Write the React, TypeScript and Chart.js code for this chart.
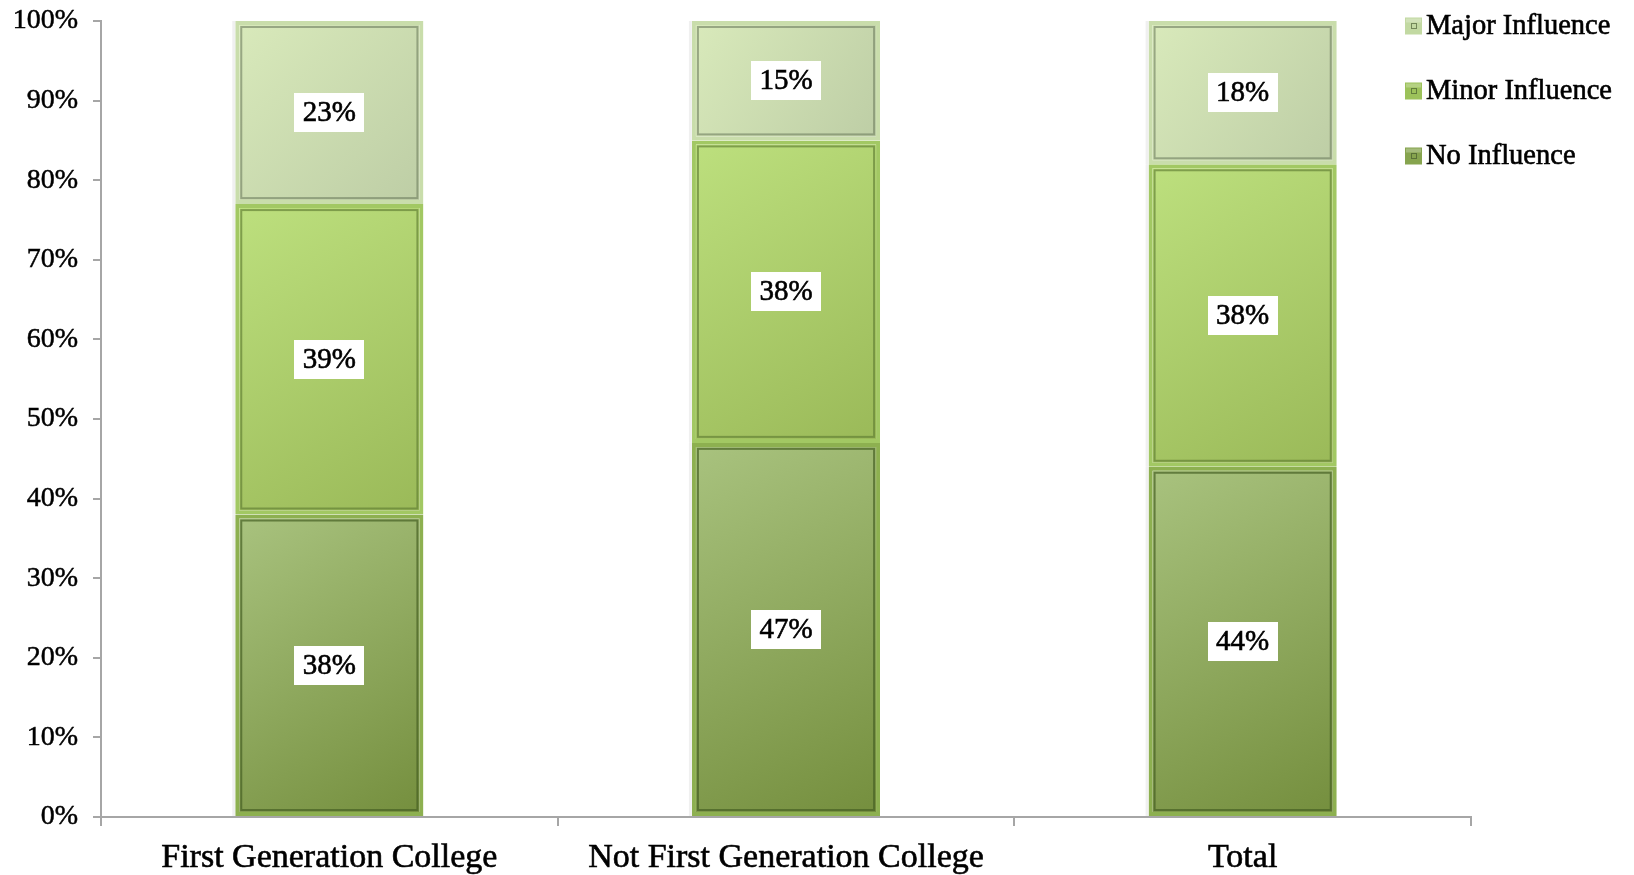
import React, { useEffect, useRef } from "react";
import { Chart, registerables } from "chart.js";

Chart.register(...registerables);

const categories = ["First Generation College", "Not First Generation College", "Total"];
const seriesNames = ["No Influence", "Minor Influence", "Major Influence"];
const noInfluence = [38, 47, 44];
const minorInfluence = [39, 38, 38];
const majorInfluence = [23, 15, 18];
const yTicks = [0, 10, 20, 30, 40, 50, 60, 70, 80, 90, 100];

const SERIF = "'Liberation Serif', 'Times New Roman', serif";

const styles = [
  { light: "#a9c37f", dark: "#748e3d", frame: "#8db050", line: "rgba(70,95,35,0.7)", legend: "#86a44e" },
  { light: "#bde07e", dark: "#9ab958", frame: "#a2c863", line: "rgba(95,125,50,0.65)", legend: "#9cc25a" },
  { light: "#d9eabb", dark: "#bdcda5", frame: "#c9ddab", line: "rgba(110,125,95,0.6)", legend: "#c2d9a2" },
];

const allSeries = [noInfluence, minorInfluence, majorInfluence];

function gradientFor(ctx: any, si: number) {
  const chart = ctx.chart;
  const area = chart.chartArea;
  const xs = chart.scales.x;
  const ys = chart.scales.y;
  if (!area || !xs || !ys || ctx.dataIndex === undefined) return styles[si].light;
  const i = ctx.dataIndex;
  let lo = 0;
  for (let k = 0; k < si; k++) lo += allSeries[k][i];
  const hi = lo + allSeries[si][i];
  const cx = xs.getPixelForValue(i);
  const half = (xs.width / categories.length) * 0.412 / 2;
  const top = ys.getPixelForValue(hi);
  const bot = ys.getPixelForValue(lo);
  const g = chart.ctx.createLinearGradient(cx - half, top, cx + half, bot);
  g.addColorStop(0, styles[si].light);
  g.addColorStop(1, styles[si].dark);
  return g;
}

function boldText(ctx: any, text: string, x: number, y: number) {
  ctx.fillText(text, x, y);
  ctx.lineWidth = 0.6;
  ctx.strokeStyle = "#000";
  ctx.strokeText(text, x, y);
}

const decorPlugin = {
  id: "decor",
  beforeDatasetsDraw(chart: any) {
    const ctx = chart.ctx;
    ctx.save();
    chart.data.datasets.forEach((_: any, di: number) => {
      const meta = chart.getDatasetMeta(di);
      meta.data.forEach((el: any) => {
        const p = el.getProps(["x", "y", "base", "width"], true);
        ctx.fillStyle = "rgba(0,0,0,0.06)";
        ctx.fillRect(p.x - p.width / 2 - 3, Math.min(p.y, p.base), 3, Math.abs(p.base - p.y));
      });
    });
    ctx.restore();
  },
  afterDatasetsDraw(chart: any) {
    const ctx = chart.ctx;
    ctx.save();
    chart.data.datasets.forEach((_: any, di: number) => {
      const meta = chart.getDatasetMeta(di);
      meta.data.forEach((el: any) => {
        const p = el.getProps(["x", "y", "base", "width"], true);
        const top = Math.min(p.y, p.base);
        const bot = Math.max(p.y, p.base);
        const l = p.x - p.width / 2;
        const inset = 6;
        ctx.strokeStyle = styles[di].line;
        ctx.lineWidth = 2;
        ctx.strokeRect(l + inset, top + inset, p.width - 2 * inset, bot - top - 2 * inset);
      });
    });
    // data labels
    chart.data.datasets.forEach((ds: any, di: number) => {
      const meta = chart.getDatasetMeta(di);
      meta.data.forEach((el: any, i: number) => {
        const p = el.getProps(["x", "y", "base"], true);
        const cy = (p.y + p.base) / 2;
        const bw = 70;
        const bh = 39;
        ctx.fillStyle = "#ffffff";
        ctx.fillRect(Math.round(p.x - bw / 2), Math.round(cy - bh / 2), bw, bh);
        ctx.fillStyle = "#000000";
        ctx.font = `29px ${SERIF}`;
        ctx.textAlign = "center";
        ctx.textBaseline = "middle";
        boldText(ctx, `${ds.data[i]}%`, p.x, cy + 1);
      });
    });
    ctx.restore();
  },
  afterDraw(chart: any) {
    const ctx = chart.ctx;
    ctx.save();
    const order = [2, 1, 0];
    const ys = [26, 91, 156];
    order.forEach((si, k) => {
      const y = ys[k];
      const bx = 1405;
      const s = 17;
      ctx.fillStyle = styles[si].legend;
      ctx.fillRect(bx, y - s / 2, s, s);
      ctx.fillStyle = "rgba(255,255,255,0.25)";
      ctx.fillRect(bx + 1, y - s / 2 + 1, s - 2, 4);
      ctx.strokeStyle = "rgba(60,80,40,0.6)";
      ctx.lineWidth = 1;
      ctx.strokeRect(bx + 6.5, y - 2.5, 5, 5);
      ctx.fillStyle = "#000000";
      ctx.font = `28.5px ${SERIF}`;
      ctx.textAlign = "left";
      ctx.textBaseline = "middle";
      boldText(ctx, seriesNames[si], 1426, y + 1);
    });
    ctx.restore();
  },
};

export default function App() {
  const ref = useRef<HTMLCanvasElement | null>(null);
  useEffect(() => {
    if (!ref.current) return;
    const datasets = seriesNames.map((name, si) => ({
      label: name,
      data: allSeries[si],
      backgroundColor: (ctx: any) => gradientFor(ctx, si),
      borderColor: styles[si].frame,
      borderWidth: 4,
      borderSkipped: false as const,
      barPercentage: 0.412,
      categoryPercentage: 1,
    }));
    const chart = new Chart(ref.current, {
      type: "bar",
      data: { labels: categories, datasets },
      options: {
        animation: false,
        responsive: false,
        maintainAspectRatio: false,
        layout: { padding: { top: 21, right: 163, bottom: 0, left: 0 } },
        plugins: { legend: { display: false }, tooltip: { enabled: false } },
        scales: {
          x: {
            stacked: true,
            grid: { drawOnChartArea: false, drawTicks: true, tickLength: 9, color: "#a6a6a6", lineWidth: 2, offset: true },
            border: { color: "#a6a6a6", width: 2 },
            ticks: { color: "#000", font: { family: SERIF, size: 34 }, padding: 12, maxRotation: 0, autoSkip: false, textStrokeColor: "#000", textStrokeWidth: 0.6 },
            afterFit: (s: any) => { s.height = 58; s.paddingLeft = 0; s.paddingRight = 0; },
          },
          y: {
            stacked: true,
            min: 0,
            max: 100,
            afterBuildTicks: (s: any) => { s.ticks = yTicks.map((v) => ({ value: v })); },
            grid: { drawOnChartArea: false, drawTicks: true, tickLength: 8, color: "#a6a6a6", lineWidth: 2 },
            border: { color: "#a6a6a6", width: 2 },
            ticks: { color: "#000", font: { family: SERIF, size: 28 }, padding: 15, callback: (v: any) => `${v}%`, textStrokeColor: "#000", textStrokeWidth: 0.5 },
            afterFit: (s: any) => { s.width = 101; s.paddingTop = 0; s.paddingBottom = 0; },
          },
        },
      },
      plugins: [decorPlugin],
    });
    return () => chart.destroy();
  }, []);
  return (
    <div style={{ position: "fixed", left: 0, top: 0, width: 1634, height: 875, background: "#fff" }}>
      <canvas ref={ref} width={1634} height={875} style={{ width: 1634, height: 875, display: "block" }} />
    </div>
  );
}
